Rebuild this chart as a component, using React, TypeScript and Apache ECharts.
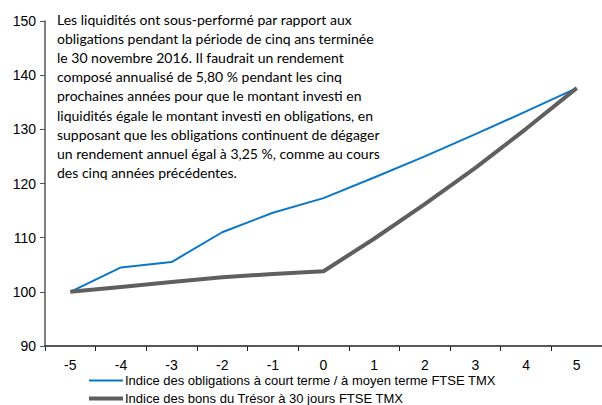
import React, { useEffect, useRef } from "react";
import * as echarts from "echarts";

const categories = ["-5", "-4", "-3", "-2", "-1", "0", "1", "2", "3", "4", "5"];
const bondIndex = [100, 104.5, 105.5, 111.0, 114.6, 117.3, 121.1, 125.0, 129.1, 133.3, 137.6];
const tbillIndex = [100, 100.9, 101.8, 102.7, 103.3, 103.8, 109.8, 116.2, 122.9, 130.1, 137.6];
const seriesNames = [
  "Indice des obligations à court terme / à moyen terme FTSE TMX",
  "Indice des bons du Trésor à 30 jours FTSE TMX",
];
const noteLines = [
  "Les liquidités ont sous-performé par rapport aux",
  "obligations pendant la période de cinq ans terminée",
  "le 30 novembre 2016. Il faudrait un rendement",
  "composé annualisé de 5,80 % pendant les cinq",
  "prochaines années pour que le montant investi en",
  "liquidités égale le montant investi en obligations, en",
  "supposant que les obligations continuent de dégager",
  "un rendement annuel égal à 3,25 %, comme au cours",
  "des cinq années précédentes.",
];

const BLUE = "#0a78c8";
const GRAY = "#5f5f5f";

export default function App() {
  const ref = useRef<HTMLDivElement>(null);
  useEffect(() => {
    if (!ref.current) return;
    const chart = echarts.init(ref.current, null, { renderer: "svg" });
    const legendBase = {
      orient: "horizontal",
      left: 89,
      itemWidth: 34,
      itemGap: 0,
      icon: "rect",
      textStyle: { color: "#000", fontSize: 13, fontFamily: "Liberation Sans", padding: [0, 0, 0, -3] },
      padding: 0,
    };
    chart.setOption({
      animation: false,
      backgroundColor: "#fff",
      grid: { left: 45, right: 0, top: 21, bottom: 59, containLabel: false },
      xAxis: {
        type: "category",
        data: categories,
        boundaryGap: true,
        axisLine: { lineStyle: { color: "#222", width: 1.5 } },
        axisTick: { show: true, length: 5, lineStyle: { color: "#222" } },
        axisLabel: { color: "#000", fontSize: 14, fontFamily: "Liberation Sans", margin: 12 },
      },
      yAxis: {
        type: "value",
        min: 90,
        max: 150,
        interval: 10,
        splitLine: { show: false },
        axisLine: { show: true, lineStyle: { color: "#555", width: 1.5 } },
        axisTick: { show: true, length: 5, lineStyle: { color: "#555" } },
        axisLabel: { color: "#000", fontSize: 14, fontFamily: "Liberation Sans", margin: 9 },
      },
      legend: [
        { ...legendBase, top: 374, itemHeight: 2, data: [seriesNames[0]] },
        { ...legendBase, top: 392, itemHeight: 4, data: [seriesNames[1]] },
      ],
      graphic: [
        {
          type: "text",
          left: 57,
          top: 10,
          style: {
            text: noteLines.join("\n"),
            font: "14px Lato",
            lineHeight: 19.1,
            fill: "#000",
          },
        },
      ],
      series: [
        {
          name: seriesNames[0],
          type: "line",
          data: bondIndex,
          symbol: "none",
          lineStyle: { color: BLUE, width: 2 },
          itemStyle: { color: BLUE },
        },
        {
          name: seriesNames[1],
          type: "line",
          data: tbillIndex,
          symbol: "none",
          lineStyle: { color: GRAY, width: 4 },
          itemStyle: { color: GRAY },
        },
      ],
    });
    return () => chart.dispose();
  }, []);
  return <div ref={ref} style={{ width: 602, height: 405, position: "fixed", left: 0, top: 0 }} />;
}
